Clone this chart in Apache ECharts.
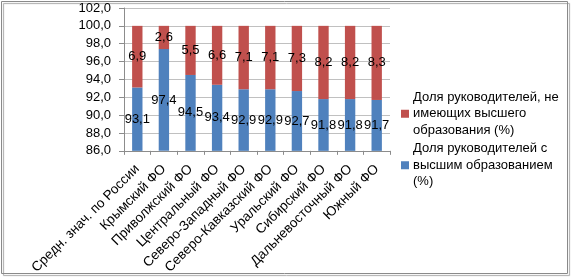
<!DOCTYPE html>
<html lang="ru">
<head>
<meta charset="UTF-8">
<title>Доля руководителей по ФО</title>
<style>
    * { padding: 0; margin: 0; }
    body { background: #fff; }
</style>
<script src="https://cdn.jsdelivr.net/npm/echarts@6/dist/echarts.min.js"></script>
</head>
<body>
<div id="main" style="width:571px;height:277px;"></div>
<script>
var categories = ['Средн. знач. по России', 'Крымский ФО', 'Приволжский ФО', 'Центральный ФО',
    'Северо-Западный ФО', 'Северо-Кавказский ФО', 'Уральский ФО', 'Сибирский ФО',
    'Дальневосточный ФО', 'Южный ФО'];
var withHigher = [93.1, 97.4, 94.5, 93.4, 92.9, 92.9, 92.7, 91.8, 91.8, 91.7];
var withoutHigher = [6.9, 2.6, 5.5, 6.6, 7.1, 7.1, 7.3, 8.2, 8.2, 8.3];
var nameWith = 'Доля руководителей с\nвысшим образованием\n(%)';
var nameWithout = 'Доля руководителей, не\nимеющих высшего\nобразования (%)';

var font = 'Liberation Sans';
function comma(v) {
    return Number(v).toFixed(1).replace('.', ',');
}

var myChart = echarts.init(document.getElementById('main'));

var option = {
    animation: false,
    textStyle: { fontFamily: font },
    graphic: [{
        type: 'rect',
        shape: { x: 1.5, y: 1.5, width: 566, height: 272 },
        style: {
            fill: 'none', stroke: '#8a8a8a', lineWidth: 1,
            shadowColor: 'rgba(0,0,0,0.35)', shadowOffsetX: 2, shadowOffsetY: 2, shadowBlur: 1
        },
        z: 100
    }],
    grid: { left: 124, right: 181, top: 8, bottom: 125 },
    legend: {
        orient: 'vertical',
        left: 396,
        top: 84,
        itemWidth: 8,
        itemHeight: 8,
        itemGap: 2,
        icon: 'rect',
        data: [nameWithout, nameWith],
        textStyle: { fontSize: 13, color: '#000', lineHeight: 16.5, fontFamily: font, padding: [0, 0, 0, -1] }
    },
    xAxis: {
        type: 'category',
        data: categories,
        axisLine: { lineStyle: { color: '#8c8c8c' } },
        axisTick: { show: true, length: 4, lineStyle: { color: '#8c8c8c' } },
        axisLabel: { rotate: 45, fontSize: 13.5, color: '#000', margin: 16, interval: 0 }
    },
    yAxis: {
        type: 'value',
        min: 86,
        max: 102,
        interval: 2,
        axisLine: { show: true, lineStyle: { color: '#8c8c8c' } },
        axisTick: { show: true, length: 5, lineStyle: { color: '#8c8c8c' } },
        splitLine: { lineStyle: { color: '#c0c0c0' } },
        axisLabel: { fontSize: 13, color: '#000', margin: 13, formatter: comma }
    },
    series: [{
        name: nameWith,
        type: 'bar',
        stack: 'total',
        barWidth: '39%',
        itemStyle: { color: '#4f81bd' },
        label: { show: true, position: 'inside', color: '#000', fontSize: 13,
            formatter: function (p) { return comma(p.value); } },
        data: withHigher
    }, {
        name: nameWithout,
        type: 'bar',
        stack: 'total',
        barWidth: '39%',
        itemStyle: { color: '#c0504d' },
        label: { show: true, position: 'inside', color: '#000', fontSize: 13,
            formatter: function (p) { return comma(p.value); } },
        data: withoutHigher
    }]
};

myChart.setOption(option);
</script>
</body>
</html>
